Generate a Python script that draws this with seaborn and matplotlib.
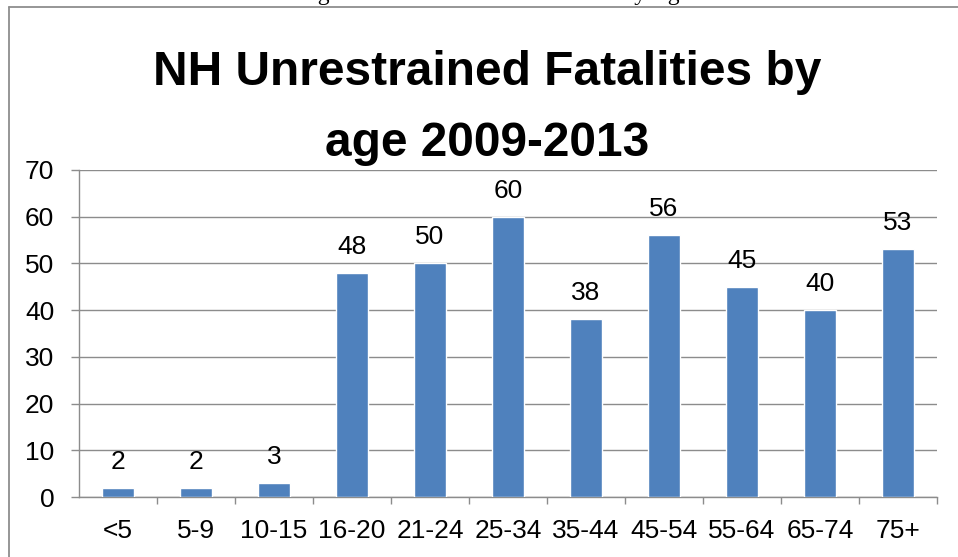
import matplotlib
matplotlib.use("Agg")
import matplotlib.pyplot as plt
import seaborn as sns
import pandas as pd

age_groups = ["<5", "5-9", "10-15", "16-20", "21-24", "25-34", "35-44",
              "45-54", "55-64", "65-74", "75+"]
fatalities = [2, 2, 3, 48, 50, 60, 38, 56, 45, 40, 53]
y_ticks = [0, 10, 20, 30, 40, 50, 60, 70]

title = "NH Unrestrained Fatalities by\nage 2009-2013"
caption = "Figure 10: Unrestrained Fatalities by Age"

sns.set_theme(style="white")
plt.rcParams["font.family"] = ["Liberation Sans", "DejaVu Sans"]
plt.rcParams["text.color"] = "black"

df = pd.DataFrame({"age": age_groups, "count": fatalities})

fig = plt.figure(figsize=(9.58, 5.57), dpi=100)
ax = fig.add_axes([0.0825, 0.1077, 0.8955, 0.5871])

sns.barplot(data=df, x="age", y="count", color="#4F81BD", saturation=1,
            width=0.4, ax=ax, zorder=3)

grid_c = "#8C8C8C"
ax.set_ylim(0, 70)
ax.set_xlim(-0.5, len(age_groups) - 0.5)
ax.set_yticks(y_ticks)
ax.yaxis.grid(True, color=grid_c, linewidth=1, zorder=0)
ax.set_axisbelow(True)
for s in ["top", "right"]:
    ax.spines[s].set_visible(False)
for s in ["left", "bottom"]:
    ax.spines[s].set_color(grid_c)
    ax.spines[s].set_linewidth(1)

ax.set_xlabel("")
ax.set_ylabel("")
ax.tick_params(axis="y", which="major", left=True, length=5.8, width=1,
               color=grid_c, labelsize=19, pad=12, labelcolor="black")
ax.tick_params(axis="x", which="major", bottom=False, labelsize=19,
               pad=10, labelcolor="black")
# tick marks between categories
ax.set_xticks([i + 0.5 for i in range(len(age_groups))], minor=True)
ax.tick_params(axis="x", which="minor", bottom=True, length=5, width=1,
               color=grid_c)

for i, v in enumerate(fatalities):
    ax.text(i, v + 3, str(v), ha="center", va="bottom", fontsize=19,
            color="black")

fig.text(0.509, 1 - 156 / 557, title, ha="center", va="baseline",
         fontsize=34.5, fontweight="bold", linespacing=1.74, color="black")

fig.text(0.516, 1.0, caption, ha="center", va="baseline",
         fontsize=17, family=["Liberation Serif", "DejaVu Serif"],
         color="black")

# page frame
frame_c = "#8E8E8E"
fig.add_artist(plt.Line2D([8.5 / 958, 1], [1 - 6.5 / 557] * 2,
                          transform=fig.transFigure, color=frame_c, lw=1.3))
fig.add_artist(plt.Line2D([8.5 / 958] * 2, [0, 1 - 6.5 / 557],
                          transform=fig.transFigure, color=frame_c, lw=1.3))

fig.savefig("out.png", dpi=100)
